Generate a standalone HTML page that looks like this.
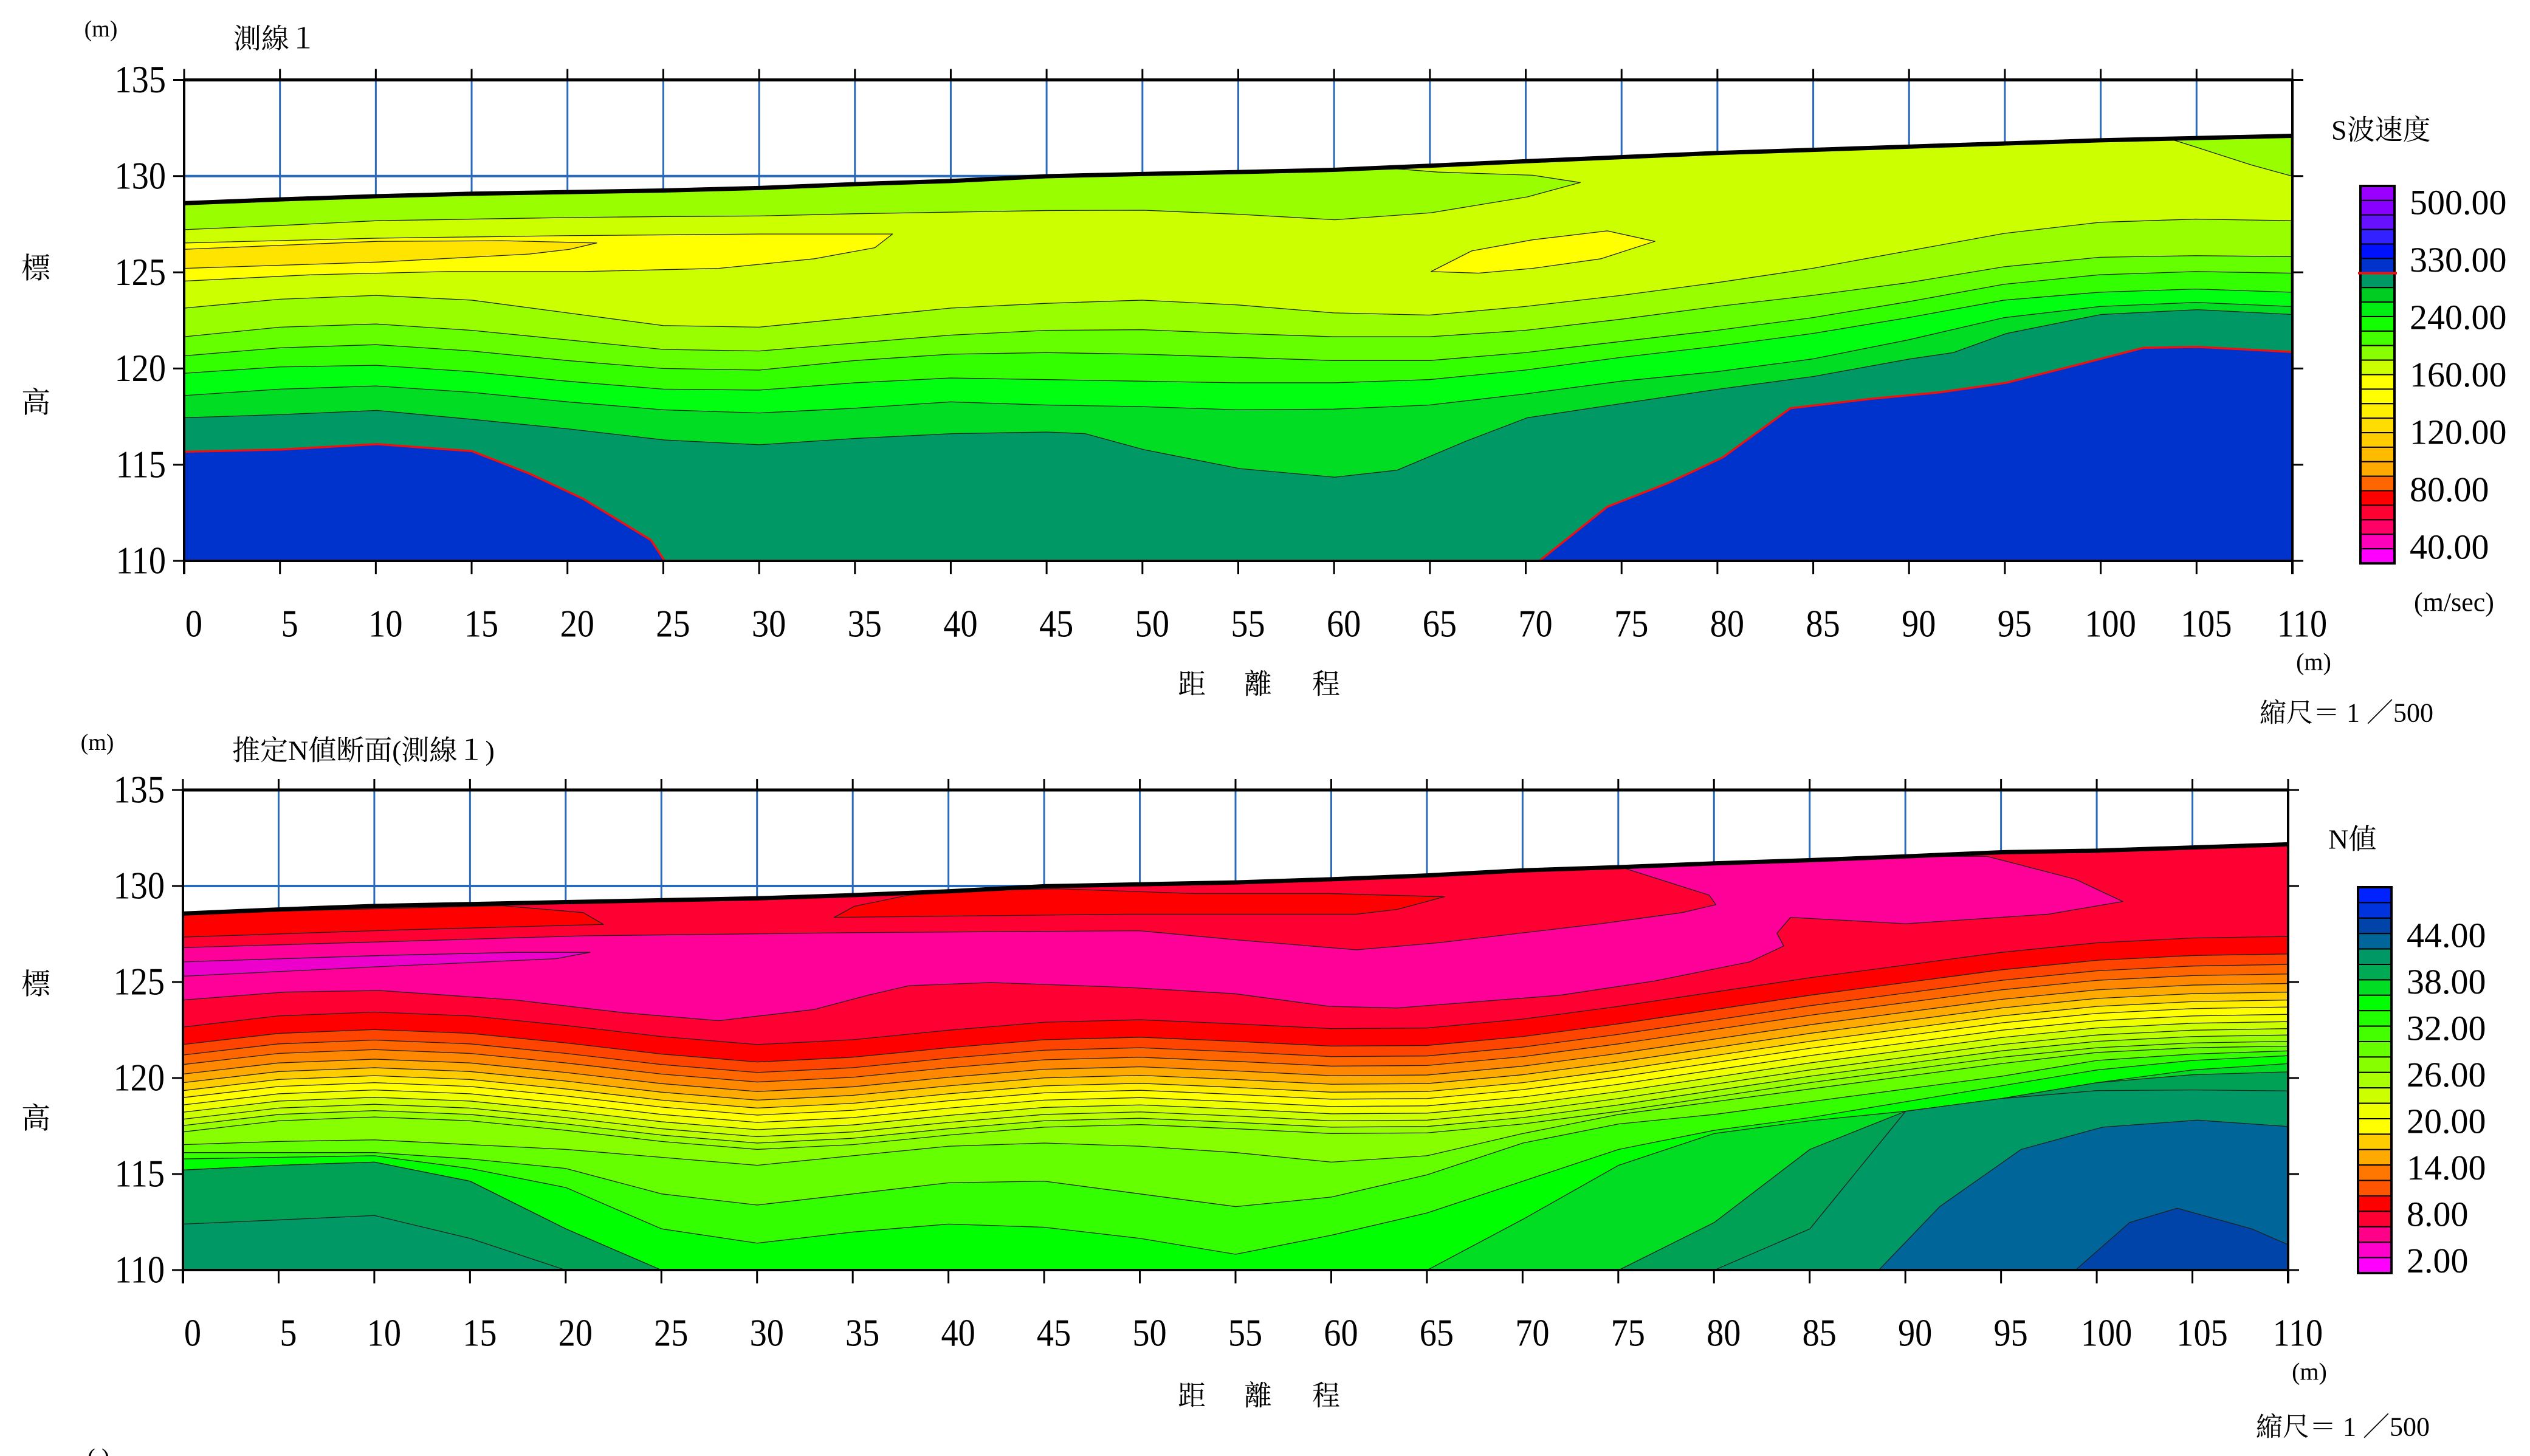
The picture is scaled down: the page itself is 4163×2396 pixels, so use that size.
<!DOCTYPE html>
<html><head><meta charset="utf-8"><style>body{margin:0;background:#fff}svg{display:block}</style></head><body>
<svg id="s" width="4163" height="2396" xmlns="http://www.w3.org/2000/svg" font-family="'Liberation Serif','Noto Serif CJK SC',serif"></svg>
<script>
const S=document.getElementById('s');let h='';
function P(pts){return pts.map(p=>p[0].toFixed(1)+','+p[1].toFixed(1)).join(' ');}
function poly(pts,fill,sw,sc){h+=`<polygon points="${P(pts)}" fill="${fill}" stroke="${sc||'#222'}" stroke-width="${sw==null?1.3:sw}" vector-effect="non-scaling-stroke" stroke-linejoin="round"/>`;}
function pl(pts,c,w){h+=`<polyline points="${P(pts)}" fill="none" stroke="${c}" stroke-width="${w}" vector-effect="non-scaling-stroke" stroke-linejoin="round"/>`;}
function ln(x1,y1,x2,y2,c,w){h+=`<line x1="${x1}" y1="${y1}" x2="${x2}" y2="${y2}" stroke="${c}" stroke-width="${w}"/>`;}
function tx(x,y,s,t,a,extra){h+=`<text x="${x}" y="${y}" font-size="${s}" text-anchor="${a||'start'}" dominant-baseline="central" ${extra||''}>${t}</text>`;}
function ntx(x,y,s,t,a){const k=0.88;h+=`<g transform="scale(${k},1)"><text x="${x/k}" y="${y}" font-size="${s}" text-anchor="${a}" dominant-baseline="central">${t}</text></g>`;}
function below(st,ys,B,c){const pts=st.map((x,i)=>[x,ys[i]]);pts.push([st[st.length-1],B],[st[0],B]);poly(pts,c);}

function axes(X0,X1,Yt,Yb){
  const dx=(X1-X0)/22,dy=(Yb-Yt)/5;
  for(let i=1;i<22;i++){ln(X0+i*dx,Yt,X0+i*dx,Yb,'#2a6ab8',3);}
  ln(X0,Yt+dy,X1,Yt+dy,'#2a6ab8',4);
}
function frame(X0,X1,Yt,Yb,lab){
  const dx=(X1-X0)/22,dy=(Yb-Yt)/5;
  ln(X0,Yt,X1,Yt,'#000',5);ln(X0,Yb,X1,Yb,'#000',4);
  ln(X0,Yt-2,X0,Yb+22,'#000',4);ln(X1,Yt-2,X1,Yb+22,'#000',4);
  for(let i=0;i<=22;i++){const x=X0+i*dx;ln(x,Yt-18,x,Yt,'#000',3);ln(x,Yb,x,Yb+22,'#000',3);
    ntx(x+16,Yb+104,64,String(i*5),'middle');}
  for(let k=0;k<=5;k++){const y=Yt+k*dy;ln(X0-18,y,X0,y,'#000',3);ln(X1,y,X1+18,y,'#000',3);
    ntx(X0-30,y,64,String(135-5*k),'end');}
}

// ===== TOP CHART =====
axes(303,3772,131.5,923);
h+='<g transform="translate(290,120) scale(2.2321,0.523)">';
{
const st=[...Array(23)].map((_,i)=>6+i*70.6),B=1535,R=1560;
const surf=[410,398,388,380,375,370,362,350,340,325,318,312,305,292,278,265,252,242,232,222,212,205,198];
below(st,surf,B,'#99ff00');
let yg=[[6,493],[77,480],[148,465],[218,460],[289,455],[360,452],[430,450],[501,443],[572,438],[642,433],[713,432],[784,445],[854,462],[925,440],[996,390],[1035,345],[1000,322],[930,312],[900,302]];
st.forEach((x,i)=>{if(x>905&&x<1470)yg.push([x,surf[i]]);});
yg.push([1470,208],[1490,235],[1530,290],[1560,325],[R,B],[6,B]);
poly(yg,'#ccff00');
poly([[6,535],[148,520],[289,512],[430,507],[528,507],[515,550],[470,585],[400,615],[300,625],[200,625],[100,635],[6,655]],'#ffff00');
poly([[6,555],[148,530],[240,528],[310,535],[290,555],[260,570],[150,595],[6,615]],'#ffe400');
poly([[925,625],[955,560],[1000,525],[1055,497],[1090,530],[1050,585],[1000,615],[960,630]],'#ffff00');
const L=[
['#99ff00',[740,712,700,715,755,795,800,770,740,725,715,730,755,762,735,700,660,615,560,505,470,460,465]],
['#66ff00',[830,800,790,810,840,870,875,850,825,810,808,820,830,830,810,775,735,700,660,610,580,575,578]],
['#33ff00',[890,865,855,875,905,930,935,905,885,880,885,895,905,905,880,845,810,770,720,665,635,625,630]],
['#00ff11',[945,925,920,940,970,995,998,975,960,965,970,975,975,965,935,895,860,820,770,715,690,680,690]],
['#00dd22',[1015,995,985,1005,1035,1060,1070,1055,1035,1045,1050,1060,1058,1045,1010,970,940,900,840,770,735,722,735]]];
L.forEach(l=>below(st,l[1],B,l[0]));
poly([[6,1085],[77,1075],[148,1062],[218,1090],[289,1120],[360,1155],[430,1170],[501,1150],[572,1135],[642,1130],[670,1135],[713,1185],[784,1245],[854,1272],[900,1250],[950,1160],[996,1085],[1066,1040],[1137,995],[1207,955],[1278,900],[1310,880],[1349,820],[1419,760],[1490,745],[1560,760],[R,B],[6,B]],'#009966');
const bl=[[6,1192],[77,1185],[148,1168],[218,1190],[260,1260],[300,1340],[350,1470],[360,1535]];
poly(bl.concat([[6,1535]]),'#0033cc',0);pl(bl,'#ee1111',3.5);
const br=[[1005,1535],[1055,1365],[1100,1290],[1140,1210],[1190,1055],[1250,1025],[1300,1005],[1349,975],[1400,920],[1450,865],[1490,862],[1560,878]];
poly(br.concat([[1560,1535]]),'#0033cc',0);pl(br,'#ee1111',3.5);
pl(st.map((x,i)=>[x,surf[i]]),'#000',7);
}
h+='</g>';
frame(303,3772,131.5,923);

// ===== BOTTOM CHART =====
axes(301,3765,1300,2090);
h+='<g transform="translate(290,1290) scale(2.2321,0.523)">';
{
const st=[...Array(23)].map((_,i)=>5+i*70.55),B=1530,R=1557;
const surf=[408,395,384,378,372,366,360,350,338,322,316,310,300,288,272,262,250,240,228,215,210,200,190];
below(st,surf,B,'#ff0033');
poly([[5,408],[240,383],[300,405],[315,442],[160,460],[5,482]],'#ff0000');
poly([[485,420],[500,385],[540,350],[590,335],[650,330],[750,345],[850,345],[935,355],[900,395],[870,410],[700,410]],'#ff0000');
poly([[5,515],[150,497],[300,478],[500,468],[710,462],[780,490],[870,522],[930,500],[1050,440],[1110,405],[1135,380],[1130,350],[1065,262],[1135,250],[1205,240],[1280,228],[1335,228],[1400,300],[1435,370],[1380,410],[1275,440],[1190,420],[1180,470],[1185,510],[1160,560],[1090,620],[1020,665],[900,705],[850,700],[780,660],[700,640],[600,625],[540,635],[510,665],[470,710],[400,745],[330,720],[250,680],[150,650],[80,655],[5,680]],'#ff0099');
poly([[5,560],[150,540],[250,530],[305,530],[280,550],[150,575],[5,605]],'#ee00cc');
const Lred=[765,730,718,730,760,795,820,805,775,750,742,755,770,768,740,700,655,610,570,530,500,485,480];
below(st,Lred,B,'#ff0000');
let prev=Lred.slice();
const off=[[55,'#ff4400'],[88,'#ff6600'],[118,'#ff8800'],[148,'#ffaa00'],[175,'#ffcc00'],[200,'#ffee00'],[222,'#ffff00'],[245,'#eeff00'],[268,'#ccff00'],[290,'#bbff00'],[310,'#99ff00'],[330,'#88ff00']];
off.forEach(o=>{const y=Lred.map(v=>v+o[0]);below(st,y,B,o[1]);prev=y;});
const lines=[
['#66ff00',[1135,1125,1120,1135,1150,1175,1200,1170,1140,1130,1140,1160,1190,1170,1100,1040,1000,960,920,880,845,830,825]],
['#33ff00',[1160,1160,1160,1180,1210,1290,1325,1290,1255,1250,1290,1330,1300,1230,1130,1070,1040,1000,960,920,870,850,840]],
['#00ff00',[1180,1175,1170,1210,1270,1400,1445,1410,1385,1395,1430,1480,1420,1350,1250,1150,1090,1050,1000,950,900,870,855]],
['#00dd22',[1215,1200,1190,1250,1400,1530,1530,1530,1530,1530,1530,1530,1530,1530,1370,1200,1100,1060,1030,990,940,900,880]],
['#00a055',[1215,1200,1190,1250,1400,1530,1530,1530,1530,1530,1530,1530,1530,1530,1530,1530,1380,1150,1000,960,935,915,906]],
['#009966',[1385,1372,1358,1430,1530,1530,1530,1530,1530,1530,1530,1530,1530,1530,1530,1530,1530,1400,1020,975,965,963,966]]];
lines.forEach(l=>{const y=l[1].map((v,i)=>Math.max(v,prev[i]));below(st,y,B,l[0]);prev=y;});
poly([[1255,1530],[1300,1330],[1360,1150],[1420,1080],[1490,1058],[1557,1078],[1557,1530]],'#006699');
poly([[1400,1530],[1440,1380],[1475,1335],[1530,1400],[1557,1450],[1557,1530]],'#0044aa');
pl(st.map((x,i)=>[x,surf[i]]),'#000',7);
}
h+='</g>';
frame(301,3765,1300,2090);

// ===== LEGENDS =====
function legend(x0,x1,y0,y1,cols,labs,ly0,lstep,lx){
  const n=cols.length,ch=(y1-y0)/n;
  cols.forEach((c,i)=>{h+=`<rect x="${x0}" y="${y0+i*ch}" width="${x1-x0}" height="${ch}" fill="${c}" stroke="#000" stroke-width="2"/>`;});
  h+=`<rect x="${x0}" y="${y0}" width="${x1-x0}" height="${y1-y0}" fill="none" stroke="#000" stroke-width="4"/>`;
  labs.forEach((t,i)=>tx(lx,ly0+i*lstep,58,t));
}
legend(3884,3940,306,927,['#9900ff','#8800ff','#6611ff','#3322ff','#0011ff','#0033cc','#009966','#00cc22','#00ee11','#11ff00','#44ff00','#88ff00','#ccff00','#ffff00','#ffff00','#ffee00','#ffdd00','#ffcc00','#ffbb00','#ffaa00','#ff6600','#ff0000','#ff0033','#ff0066','#ff00bb','#ff00ff'],
 ['500.00','330.00','240.00','160.00','120.00','80.00','40.00'],333,94.5,3965);
ln(3880,449.5,3944,449.5,'#ee1111',4);
legend(3880,3935,1460,2095,['#0022ff','#0033dd','#0044aa','#006699','#009966','#00aa55','#00dd22','#00ff00','#22ff00','#44ff00','#66ff00','#88ff00','#aaff00','#ccff00','#eeff00','#ffff00','#ffcc00','#ffaa00','#ff7700','#ff5500','#ff0000','#ff0033','#ff0088','#ff00cc','#ff00ff'],
 ['44.00','38.00','32.00','26.00','20.00','14.00','8.00','2.00'],1539,76.5,3960);

// ===== TEXTS =====
tx(166,48,38,'(m)','middle');tx(384,64,46,'測線１');
tx(59,442,48,'標','middle');tx(59,663,48,'高','middle');
tx(1961,1126,46,'距','middle');tx(2070,1126,46,'離','middle');tx(2182,1126,46,'程','middle');
tx(3807,1089,40,'(m)','middle');tx(3718,1173,44,'縮尺＝ 1 ／500');
tx(3836,214,46,'S波速度');tx(3972,991,44,'(m/sec)');

tx(160,1222,38,'(m)','middle');tx(382,1235,46,'推定N値断面(測線１)');
tx(59,1620,48,'標','middle');tx(59,1841,48,'高','middle');
tx(1961,2297,46,'距','middle');tx(2070,2297,46,'離','middle');tx(2182,2297,46,'程','middle');
tx(3800,2257,40,'(m)','middle');tx(3712,2348,44,'縮尺＝ 1 ／500');
tx(3831,1381,46,'N値');
tx(162,2398,40,'(  )','middle');
S.innerHTML=h;
</script>
</body></html>
